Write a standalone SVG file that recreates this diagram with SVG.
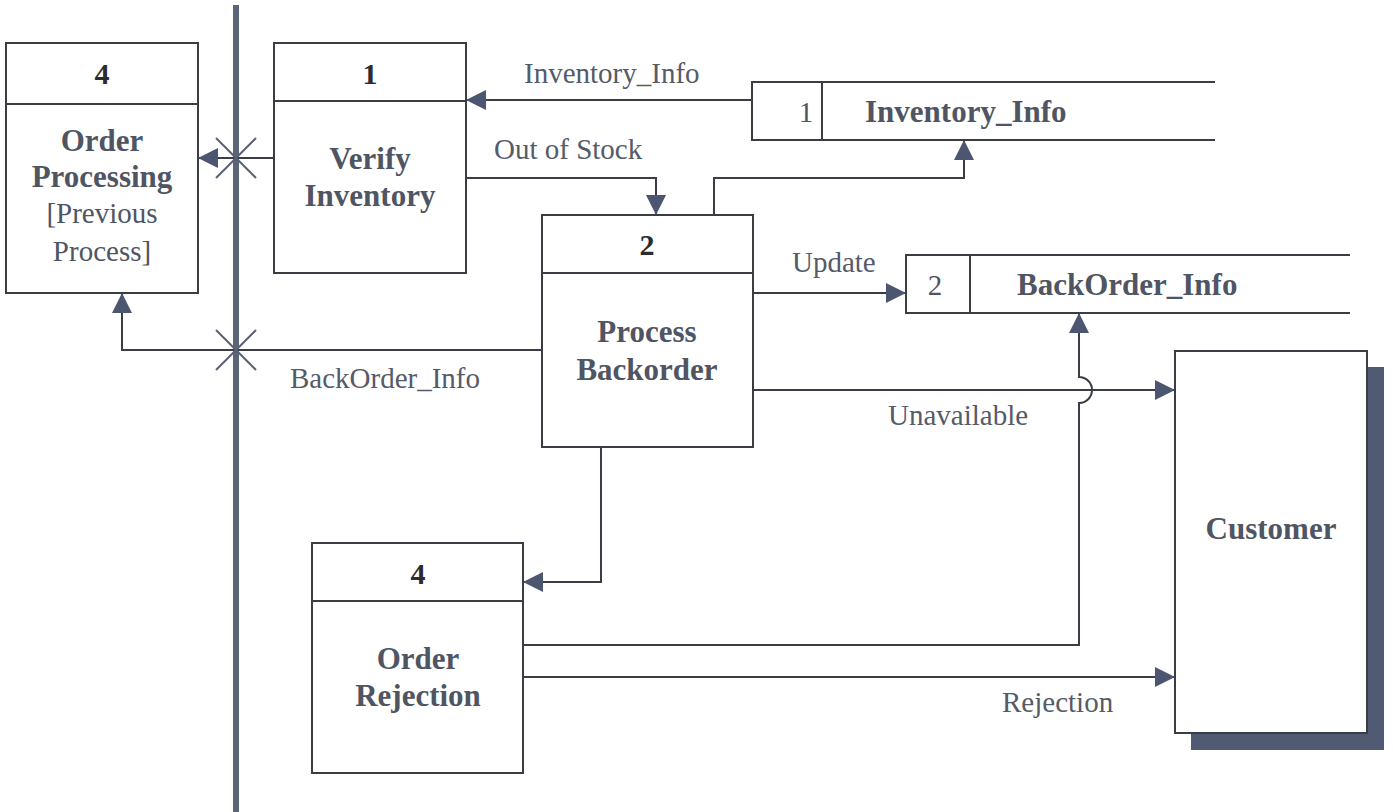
<svg xmlns="http://www.w3.org/2000/svg" width="1393" height="812" viewBox="0 0 1393 812">
  <style>
    .box { fill: #ffffff; stroke: #3a3d44; stroke-width: 2; }
    .div { stroke: #3a3d44; stroke-width: 2; fill: none; }
    .num { font-family: "Liberation Serif", serif; font-weight: bold; font-size: 30px; fill: #2a2c33; text-anchor: middle; }
    .title { font-family: "Liberation Serif", serif; font-weight: bold; font-size: 31px; fill: #4f5563; text-anchor: middle; }
    .plain { font-family: "Liberation Serif", serif; font-size: 29px; fill: #4f5563; text-anchor: middle; }
    .lbl { font-family: "Liberation Serif", serif; font-size: 29px; fill: #555b68; }
    .snum { font-family: "Liberation Serif", serif; font-size: 29px; fill: #4f5563; text-anchor: middle; }
    .flow { fill: none; stroke: #3a3d45; stroke-width: 2; marker-end: url(#arr); }
    .xmark { stroke: #5a6275; stroke-width: 2; }
  </style>
  <defs>
    <marker id="arr" viewBox="0 0 10 10" refX="10" refY="5" markerUnits="userSpaceOnUse" markerWidth="20" markerHeight="20" orient="auto">
      <path d="M0,0 L10,5 L0,10 Z" fill="#4d5670"/>
    </marker>
  </defs>

  <rect width="1393" height="812" fill="#ffffff"/>

  <!-- system boundary -->
  <rect x="233" y="5" width="6" height="807" fill="#5c6577"/>

  <g id="connectors">
    <!-- Verify Inventory -> Order Processing -->
    <path class="flow" d="M274,158 L198,158"/>
    <!-- Inventory_Info store -> Verify Inventory -->
    <path class="flow" d="M752,100 L466,100"/>
    <!-- Out of Stock -->
    <path class="flow" d="M466,178 L656,178 L656,215"/>
    <!-- Process Backorder -> Inventory_Info store -->
    <path class="flow" d="M714,215 L714,178 L964,178 L964,140"/>
    <!-- Update -->
    <path class="flow" d="M753,293 L906,293"/>
    <!-- BackOrder_Info -> Order Processing -->
    <path class="flow" d="M542,350 L122,350 L122,293"/>
    <!-- Unavailable -->
    <path class="flow" d="M753,390 L1175,390"/>
    <!-- Process Backorder -> Order Rejection -->
    <path class="flow" d="M601,447 L601,582 L523,582"/>
    <!-- Order Rejection -> BackOrder_Info store (hops over Unavailable) -->
    <path class="flow" d="M523,645 L1079,645 L1079,403 A13,13 0 0 0 1079,377 L1079,313"/>
    <!-- Rejection -->
    <path class="flow" d="M523,677 L1175,677"/>
    <!-- crossings of the boundary -->
    <path class="xmark" d="M216,138 L256,178 M216,178 L256,138"/>
    <path class="xmark" d="M216,330 L256,370 M216,370 L256,330"/>
  </g>

  <g id="labels">
    <text class="lbl" x="524" y="83">Inventory_Info</text>
    <text class="lbl" x="494" y="159">Out of Stock</text>
    <text class="lbl" x="792" y="272">Update</text>
    <text class="lbl" x="290" y="388">BackOrder_Info</text>
    <text class="lbl" x="888" y="425">Unavailable</text>
    <text class="lbl" x="1002" y="712">Rejection</text>
  </g>

  <g id="order-processing">
    <rect class="box" x="6" y="43" width="192" height="250"/>
    <line class="div" x1="6" y1="104" x2="198" y2="104"/>
    <text class="num" x="102" y="84">4</text>
    <text class="title" x="102" y="151">Order</text>
    <text class="title" x="102" y="187">Processing</text>
    <text class="plain" x="102" y="223">[Previous</text>
    <text class="plain" x="102" y="261">Process]</text>
  </g>

  <g id="verify-inventory">
    <rect class="box" x="274" y="43" width="192" height="230"/>
    <line class="div" x1="274" y1="101" x2="466" y2="101"/>
    <text class="num" x="370" y="84">1</text>
    <text class="title" x="370" y="169">Verify</text>
    <text class="title" x="370" y="206">Inventory</text>
  </g>

  <g id="store-inventory-info">
    <path class="div" d="M1215,82 L752,82 L752,140 L1215,140 M822,82 L822,140"/>
    <text class="snum" x="806" y="122">1</text>
    <text class="title" x="865" y="122" style="text-anchor:start">Inventory_Info</text>
  </g>

  <g id="process-backorder">
    <rect class="box" x="542" y="215" width="211" height="232"/>
    <line class="div" x1="542" y1="273" x2="753" y2="273"/>
    <text class="num" x="647" y="255">2</text>
    <text class="title" x="647" y="342">Process</text>
    <text class="title" x="647" y="380">Backorder</text>
  </g>

  <g id="store-backorder-info">
    <path class="div" d="M1350,255 L906,255 L906,313 L1350,313 M970,255 L970,313"/>
    <text class="snum" x="935" y="295">2</text>
    <text class="title" x="1017" y="295" style="text-anchor:start">BackOrder_Info</text>
  </g>

  <g id="customer">
    <rect x="1191" y="367" width="193" height="383" fill="#505b73"/>
    <rect class="box" x="1175" y="351" width="192" height="382"/>
    <text class="title" x="1271" y="539">Customer</text>
  </g>

  <g id="order-rejection">
    <rect class="box" x="312" y="543" width="211" height="230"/>
    <line class="div" x1="312" y1="601" x2="523" y2="601"/>
    <text class="num" x="418" y="584">4</text>
    <text class="title" x="418" y="669">Order</text>
    <text class="title" x="418" y="706">Rejection</text>
  </g>
</svg>
